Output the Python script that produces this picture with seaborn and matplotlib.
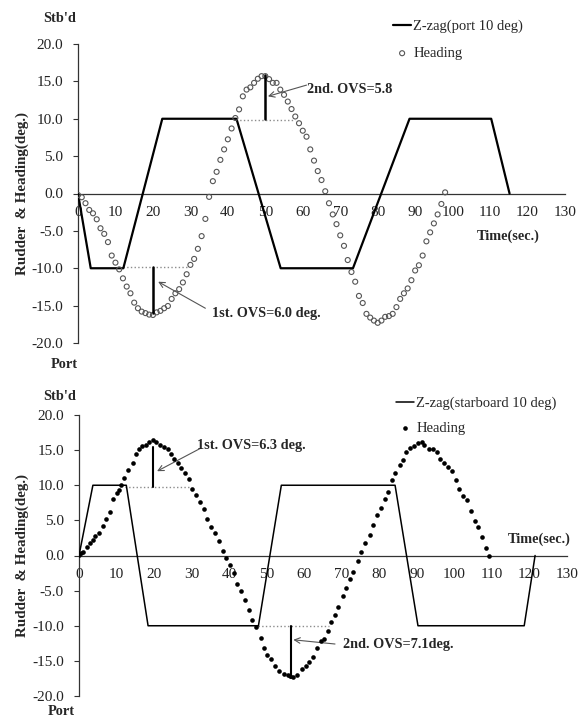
import matplotlib
matplotlib.use("Agg")
import matplotlib.pyplot as plt
import seaborn as sns
import pandas as pd
from matplotlib.ticker import FormatStrFormatter

# ---------------- data ----------------
x_ticks = [0, 10, 20, 30, 40, 50, 60, 70, 80, 90, 100, 110, 120, 130]
y_ticks = [-20, -15, -10, -5, 0, 5, 10, 15, 20]

top_rudder_t = [0, 3.4, 12.1, 22.5, 42.3, 54.1, 73.4, 88.5, 110.3, 115.2]
top_rudder_v = [0, -10, -10, 10, 10, -10, -10, 10, 10, 0]
top_head_t = list(range(0, 99))
top_head_v = [-0.2, -0.5, -1.3, -2.2, -2.65, -3.45, -4.65, -5.4, -6.5, -8.3,
              -9.25, -10.15, -11.35, -12.45, -13.35, -14.6, -15.35, -15.8, -16.0, -16.2,
              -16.25, -15.9, -15.7, -15.35, -15.05, -14.1, -13.35, -12.8, -11.9, -10.8,
              -9.55, -8.75, -7.4, -5.7, -3.4, -0.45, 1.65, 2.9, 4.5, 5.9,
              7.25, 8.7, 10.1, 11.25, 13.0, 13.9, 14.2, 14.8, 15.35, 15.7,
              15.7, 15.3, 14.8, 14.8, 13.9, 13.2, 12.3, 11.3, 10.3, 9.4,
              8.4, 7.6, 5.9, 4.4, 3.0, 1.8, 0.3, -1.3, -2.8, -4.1,
              -5.6, -7.0, -8.9, -10.5, -11.8, -13.7, -14.65, -16.1, -16.6, -17.0,
              -17.3, -17.0, -16.5, -16.4, -16.1, -15.2, -14.1, -13.35, -12.7, -11.6,
              -10.3, -9.6, -8.3, -6.4, -5.2, -4.0, -2.8, -1.4, 0.15]

bot_rudder_t = [0, 3.7, 12.6, 18.4, 47.8, 53.9, 84.2, 90.3, 118.6, 121.5]
bot_rudder_v = [0, 10, 10, -10, -10, 10, 10, -10, -10, 0]
bot_head_t = [0.0, 0.6, 1.1, 2.2, 3.0, 3.6, 4.3, 5.2, 6.3, 7.3,
              8.2, 9.1, 10.0, 10.7, 11.3, 12.1, 13.0, 14.3, 15.2, 16.1,
              16.9, 17.8, 18.7, 19.8, 20.6, 21.7, 22.6, 23.7, 24.6, 25.4,
              26.3, 27.2, 28.2, 29.2, 30.2, 31.2, 32.3, 33.3, 34.2, 35.1,
              36.2, 37.3, 38.3, 39.2, 40.3, 41.2, 42.1, 43.2, 44.3, 45.3,
              46.2, 47.2, 48.4, 49.2, 50.2, 51.2, 52.3, 53.4, 54.6, 55.6,
              56.3, 57.1, 58.0, 59.3, 60.4, 61.3, 62.3, 63.3, 64.4, 65.3,
              66.3, 67.1, 68.1, 69.1, 70.2, 71.2, 72.2, 73.1, 74.3, 75.2,
              76.2, 77.6, 78.4, 79.5, 80.5, 81.5, 82.4, 83.3, 84.2, 85.4,
              86.3, 87.1, 88.3, 89.3, 90.3, 91.3, 92.0, 93.3, 94.4, 95.3,
              96.2, 97.3, 98.2, 99.3, 100.3, 101.3, 102.3, 103.4, 104.4, 105.4,
              106.2, 107.4, 108.4, 109.3]
bot_head_v = [0.1, 0.33, 0.48, 1.19, 1.8, 2.2, 2.76, 3.24, 4.2, 5.2,
              6.2, 8.1, 8.95, 9.3, 10.0, 11.1, 12.2, 13.2, 14.4, 15.2,
              15.6, 15.8, 16.1, 16.4, 16.2, 15.8, 15.5, 15.1, 14.5, 13.8,
              13.2, 12.5, 11.7, 10.9, 9.4, 8.6, 7.6, 6.6, 5.2, 4.0,
              3.2, 2.0, 0.7, -0.4, -1.4, -2.5, -4.0, -5.1, -6.3, -7.8,
              -9.2, -10.2, -11.8, -13.1, -14.1, -14.8, -15.8, -16.4, -16.8, -17.0,
              -17.1, -17.3, -17.0, -16.2, -15.7, -15.1, -14.4, -13.2, -12.1, -11.9,
              -10.7, -9.4, -8.5, -7.4, -5.7, -4.6, -3.4, -2.4, -0.8, 0.5,
              1.8, 2.9, 4.4, 5.8, 6.8, 8.0, 9.1, 10.7, 11.8, 12.9,
              13.6, 14.7, 15.3, 15.6, 16.0, 16.1, 15.8, 15.2, 15.1, 14.8,
              13.8, 13.2, 12.6, 12.0, 10.7, 9.5, 8.5, 7.9, 6.3, 4.9,
              4.0, 2.6, 1.0, -0.1]

top_labels = ["Z-zag(port 10 deg)", "Heading"]
bot_labels = ["Z-zag(starboard 10 deg)", "Heading"]
top_ovs_text = ["1st. OVS=6.0 deg.", "2nd. OVS=5.8"]
bot_ovs_text = ["1st. OVS=6.3 deg.", "2nd. OVS=7.1deg."]

# ---------------- style ----------------
sns.set_style("white")
plt.rcParams["font.family"] = ["Liberation Serif", "DejaVu Serif"]
plt.rcParams["axes.unicode_minus"] = False

W, H = 587, 720
fig = plt.figure(figsize=(W / 100, H / 100), dpi=100)


def pix_axes(l, t, r, b):
    return fig.add_axes([l / W, 1 - b / H, (r - l) / W, (b - t) / H])


def ftext(x, y, s, **kw):
    fig.text(x / W, 1 - y / H, s, **kw)


def style_axes(ax):
    ax.set_xlim(0, 130)
    ax.set_ylim(-20, 20)
    ax.set_xticks(x_ticks)
    ax.set_yticks(y_ticks)
    ax.yaxis.set_major_formatter(FormatStrFormatter("%.1f"))
    for s in ["top", "right"]:
        ax.spines[s].set_visible(False)
    ax.spines["bottom"].set_position(("data", 0))
    for s in ["left", "bottom"]:
        ax.spines[s].set_color("#333333")
        ax.spines[s].set_linewidth(0.9)
    ax.tick_params(axis="x", direction="in", length=3.5, width=0.8, color="#333333",
                   pad=9, labelsize=11, labelcolor="#222222")
    ax.tick_params(axis="y", direction="out", length=3.8, width=0.8, color="#333333",
                   pad=7, labelsize=11, labelcolor="#222222", left=True)
    ax.set_xlabel("")
    ax.set_ylabel("")
    ax.patch.set_alpha(0)


# ---------------- top panel ----------------
ax1 = pix_axes(78, 44, 565, 343)
df_r1 = pd.DataFrame({"t": top_rudder_t, "v": top_rudder_v})
df_h1 = pd.DataFrame({"t": top_head_t, "v": top_head_v})
sns.lineplot(data=df_r1, x="t", y="v", ax=ax1, color="black", lw=1.6,
             sort=False, estimator=None, label=top_labels[0], zorder=3)
sns.scatterplot(data=df_h1, x="t", y="v", ax=ax1, marker="o", s=13,
                label=top_labels[1], zorder=4)
sc = ax1.collections[-1]
sc.set_facecolor("none")
sc.set_edgecolor("#555555")
sc.set_linewidth(0.8)
style_axes(ax1)

# OVS marks
ax1.plot([12.1, 29.0], [-9.8, -9.8], ls=":", color="#8c8c8c", lw=1.0, zorder=2)
ax1.plot([20.0, 20.0], [-9.8, -16.0], color="black", lw=1.8, zorder=5)
ax1.plot([42.3, 57.9], [9.8, 9.8], ls=":", color="#8c8c8c", lw=1.0, zorder=2)
ax1.plot([49.8, 49.8], [10.0, 15.8], color="black", lw=1.8, zorder=5)
arrow = dict(arrowstyle="->", color="#555555", lw=0.8, shrinkA=0, shrinkB=0,
             mutation_scale=10)
ax1.annotate("", xy=(21.4, -11.8), xytext=(34.0, -15.35), arrowprops=arrow)
ax1.annotate("", xy=(50.7, 13.0), xytext=(61.0, 14.5), arrowprops=arrow)
ax1.text(35.7, -16.1, top_ovs_text[0], fontsize=10.3, fontweight="bold",
         ha="left", va="center")
ax1.text(61.0, 13.85, top_ovs_text[1], fontsize=10.3, fontweight="bold",
         ha="left", va="center")

h, l = ax1.get_legend_handles_labels()
ax1.legend(h, l, loc="upper left", bbox_to_anchor=(393 / W, 1 - 19.5 / H),
           bbox_transform=fig.transFigure, frameon=False, fontsize=10.5,
           handlelength=1.25, handletextpad=0.15, labelspacing=0.95,
           borderpad=0, borderaxespad=0)

ftext(43, 18, "Stb'd", fontsize=10.3, fontweight="bold", ha="left", va="center")
ftext(51, 364, "Port", fontsize=10.3, fontweight="bold", ha="left", va="center")
ftext(477, 236.7, "Time(sec.)", fontsize=10.3, fontweight="bold", ha="left", va="center")
ftext(22, 193.5, "Rudder  & Heading(deg.)", fontsize=10.8, fontweight="bold",
      ha="center", va="center", rotation=90)

# ---------------- bottom panel ----------------
ax2 = pix_axes(79, 415, 567, 696)
df_r2 = pd.DataFrame({"t": bot_rudder_t, "v": bot_rudder_v})
df_h2 = pd.DataFrame({"t": bot_head_t, "v": bot_head_v})
sns.lineplot(data=df_r2, x="t", y="v", ax=ax2, color="black", lw=1.1,
             sort=False, estimator=None, label=bot_labels[0], zorder=3)
sns.scatterplot(data=df_h2, x="t", y="v", ax=ax2, marker="o", s=11,
                color="black", linewidth=0, label=bot_labels[1], zorder=4)
style_axes(ax2)

ax2.plot([12.3, 29.2], [9.8, 9.8], ls=":", color="#8c8c8c", lw=1.0, zorder=2)
ax2.plot([19.7, 19.7], [9.8, 15.5], color="black", lw=1.5, zorder=5)
ax2.plot([47.8, 66.6], [-10.1, -10.1], ls=":", color="#8c8c8c", lw=1.0, zorder=2)
ax2.plot([56.5, 56.5], [-10.1, -17.4], color="black", lw=1.5, zorder=5)
ax2.annotate("", xy=(20.8, 12.0), xytext=(32.3, 15.24), arrowprops=arrow)
ax2.annotate("", xy=(57.1, -12.0), xytext=(68.2, -12.6), arrowprops=arrow)
ax2.text(31.4, 15.7, bot_ovs_text[0], fontsize=10.3, fontweight="bold",
         ha="left", va="center")
ax2.text(70.3, -12.6, bot_ovs_text[1], fontsize=10.3, fontweight="bold",
         ha="left", va="center")

h, l = ax2.get_legend_handles_labels()
ax2.legend(h, l, loc="upper left", bbox_to_anchor=(396 / W, 1 - 396.5 / H),
           bbox_transform=fig.transFigure, frameon=False, fontsize=10.5,
           handlelength=1.25, handletextpad=0.15, labelspacing=0.82,
           borderpad=0, borderaxespad=0)

ftext(43, 396.7, "Stb'd", fontsize=10.3, fontweight="bold", ha="left", va="center")
ftext(48, 711.7, "Port", fontsize=10.3, fontweight="bold", ha="left", va="center")
ftext(508, 539, "Time(sec.)", fontsize=10.3, fontweight="bold", ha="left", va="center")
ftext(22, 555.5, "Rudder  & Heading(deg.)", fontsize=10.8, fontweight="bold",
      ha="center", va="center", rotation=90)

fig.savefig("out.png", dpi=100, facecolor="white")
